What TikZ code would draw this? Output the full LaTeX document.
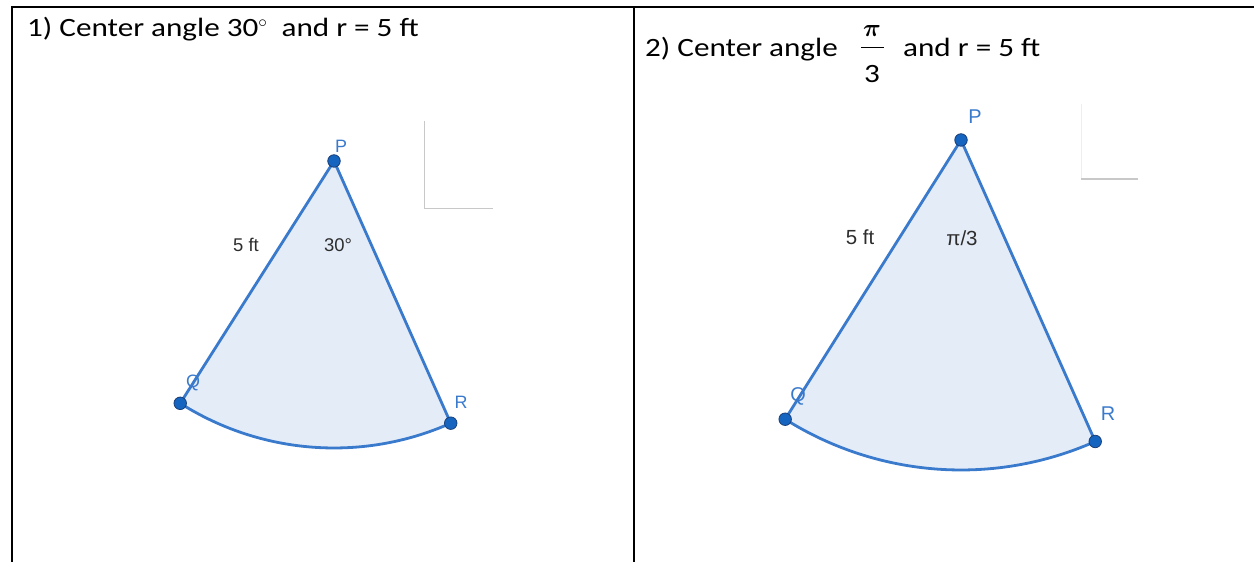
\documentclass[tikz,border=0pt]{standalone}
\usepackage{amsmath,amssymb,bm}
\usepackage{fontspec}
\setmainfont{Carlito}
\newfontfamily\headfont[FakeStretch=1.18]{Carlito}
\newfontfamily\geofont{Liberation Sans}
\usepackage{tikz}
\usetikzlibrary{positioning}

\definecolor{edgeblue}{RGB}{58,122,204}
\definecolor{dotblue}{RGB}{21,101,192}
\definecolor{dotrim}{RGB}{25,62,120}
\definecolor{sectorfill}{RGB}{228,236,247}
\definecolor{labgray}{RGB}{45,45,45}
\definecolor{ghostgray}{RGB}{200,200,200}

\tikzset{
  vertex/.style={circle,fill=dotblue,draw=dotrim,line width=0.8bp,inner sep=0pt,minimum size=12.5bp},
  sector/.style={draw=edgeblue,fill=sectorfill,line width=2.8bp,line join=round},
  ptlabel/.style={text=edgeblue,inner sep=0pt,font=\geofont\fontsize{18}{18}\selectfont},
  sidelabel/.style={text=labgray,inner sep=0pt,font=\geofont\fontsize{18.5}{18.5}\selectfont},
  title/.style={anchor=base west,inner sep=0pt,font=\headfont\fontsize{26.5}{28}\selectfont},
  tableline/.style={black,line width=2bp},
  ghost/.style={ghostgray,line width=1bp}
}

\begin{document}
\begin{tikzpicture}[x=1bp,y=1bp]
        \useasboundingbox (0,0) rectangle (1254,562);

        % table rules
        \draw[tableline] (12,0) -- (12,555) -- (1254,555);
        \draw[tableline] (634,0) -- (634,555);

        % 1) left cell
        \node[title] (head1) at (27,525) {1) Center angle 30$^{\circ}$\ \ and r = 5 ft};
        \coordinate (P1) at (334,401);
        \filldraw[sector] (P1) -- ++(237.6:287) arc[start angle=237.6,end angle=294,radius=287] -- cycle;
        \node[vertex] (p1) at (P1) {};
        \node[vertex] (q1) at ([shift={(237.6:287)}]P1) {};
        \node[vertex] (r1) at ([shift={(294:287)}]P1) {};

        \node[ptlabel] (plab1) at (341,416) {P};
        \node[ptlabel] (qlab1) at (193,179) {Q};
        \node[ptlabel] (rlab1) at (461,160) {R};
        \node[sidelabel] (side1) at (246,317) {5 ft};
        \node[sidelabel] (ang1) at (338,317) {30°};

        \draw[ghost] (424,441) -- (424,353) -- (493,353);

        % 2) right cell
        \node[title] (head2) at (645,505) {2) Center angle};
        \node[inner sep=0pt,font=\fontsize{25}{26}\selectfont] (num2) at (872,531) {$\boldsymbol{\pi}$};
        \node[inner sep=0pt,font=\headfont\fontsize{26.5}{28}\selectfont] (den2) at (872,488) {3};
        \draw[line width=1bp] (861,514) -- (884,514);
        \node[title] (tail2) at (903,505) {and r = 5 ft};

        \coordinate (P2) at (961,422);
        \filldraw[sector] (P2) -- ++(237.8:330) arc[start angle=237.8,end angle=294,radius=330] -- cycle;
        \node[vertex] (p2) at (P2) {};
        \node[vertex] (q2) at ([shift={(237.8:330)}]P2) {};
        \node[vertex] (r2) at ([shift={(294:330)}]P2) {};

        \node[ptlabel,font=\geofont\fontsize{20}{20}\selectfont] (plab2) at (975,445) {P};
        \node[ptlabel,font=\geofont\fontsize{20}{20}\selectfont] (qlab2) at (798,166) {Q};
        \node[ptlabel,font=\geofont\fontsize{20}{20}\selectfont] (rlab2) at (1108,148) {R};
        \node[sidelabel,font=\geofont\fontsize{20.5}{20.5}\selectfont] (side2) at (860,325) {5 ft};
        \node[sidelabel,font=\geofont\fontsize{20.5}{20.5}\selectfont] (ang2) at (962,324) {π/3};

        \draw[ghost,ghostgray!30] (1081,458) -- (1081,383);
        \draw[ghost,line width=1.5bp] (1081,383) -- (1138,383);
      \end{tikzpicture}
\end{document}
